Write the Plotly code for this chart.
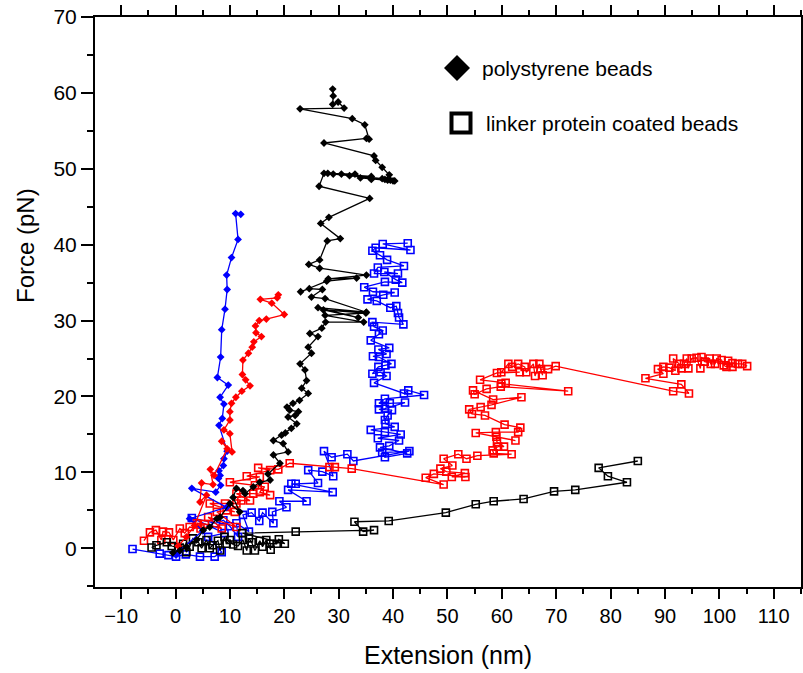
import plotly.graph_objects as go

# ---- data (Extension nm, Force pN) ----
# polystyrene beads (filled diamonds)
bd_x = [0.1, 0.8, 5.0, 2.6, 9.4, 3.0, 7.4, 8.3, 7.9, 8.2, 8.0, 8.8, 8.9, 9.5, 8.0, 8.6, 8.9, 8.2, 9.7, 7.7, 8.3, 8.5, 9.1, 9.5, 9.4, 10.3, 11.5, 11.05, 12.0]
bd_y = [-0.9, -0.3, 2.3, 3.9, 5.4, 7.9, 7.4, 8.3, 9.2, 9.6, 10.2, 10.9, 11.8, 12.8, 16.2, 17.1, 19.0, 19.9, 21.5, 22.5, 25.2, 28.8, 31.5, 34.1, 36.0, 38.3, 40.7, 44.1, 44.0]

rd_x = [0.5, 2.0, 3.5, 5.7, 4.5, 4.8, 6.9, 6.4, 7.1, 9.5, 8.5, 10.4, 10.0, 8.9, 10.0, 10.0, 10.3, 11.1, 12.2, 13.7, 12.9, 12.3, 12.4, 13.4, 14.1, 14.4, 15.8, 14.8, 14.7, 15.4, 16.7, 20.0, 17.7, 15.6, 18.7, 18.9]
rd_y = [0.3, 1.5, 3.0, 7.0, 6.1, 8.6, 8.4, 10.4, 9.6, 13.1, 14.1, 12.7, 15.1, 15.6, 16.9, 18.0, 19.1, 19.9, 20.7, 21.4, 22.2, 22.9, 24.8, 25.7, 26.5, 27.2, 27.9, 28.4, 29.3, 30.0, 30.2, 30.8, 32.3, 32.8, 33.0, 33.4]

kd_x = [-0.5, 0.8, 2.0, 3.9, 5.1, 6.3, 7.6, 8.2, 10.0, 11.8, 10.6, 11.2, 12.4, 12.8, 14.3, 15.5, 17.4, 17.0, 19.2, 18.0, 20.7, 19.8, 18.0, 19.5, 20.2, 21.3, 22.3, 20.7, 22.0, 22.6, 21.0, 20.5, 21.6, 22.8, 24.4, 23.2, 24.1, 23.8, 22.9, 25.0, 24.4, 26.2, 24.7, 26.9, 27.6, 34.6, 27.5, 35.0, 27.2, 33.6, 26.2, 35.1, 27.5, 25.0, 27.0, 24.6, 23.0, 27.8, 33.3, 28.1, 35.1, 26.5, 24.5, 26.5, 27.9, 30.3, 26.7, 28.2, 35.7, 26.4, 27.3, 33.0, 28.0, 36.0, 29.0, 38.0, 30.5, 39.5, 32.0, 40.3, 34.0, 39.0, 36.0, 40.0, 38.5, 39.3, 38.0, 36.8, 36.5, 27.3, 35.1, 35.6, 34.8, 32.5, 22.9, 31.0, 29.9, 28.9, 29.0, 28.9]
kd_y = [-0.6, -0.3, 0.2, 1.1, 2.4, 2.8, 3.9, 4.1, 5.9, 4.8, 6.7, 7.9, 7.6, 7.2, 8.1, 8.7, 9.0, 9.8, 11.2, 12.3, 12.7, 13.8, 14.2, 14.9, 15.2, 15.8, 16.4, 17.3, 17.5, 18.0, 18.2, 18.6, 19.1, 19.5, 20.4, 21.1, 22.1, 23.5, 24.3, 25.7, 26.5, 27.9, 28.3, 29.0, 29.8, 29.8, 30.7, 31.0, 31.4, 30.4, 31.7, 31.1, 32.9, 33.1, 34.1, 34.2, 33.8, 35.2, 35.6, 35.5, 36.0, 36.9, 37.4, 38.0, 40.5, 40.8, 42.8, 43.6, 46.1, 47.7, 49.4, 49.3, 49.4, 49.0, 49.3, 48.7, 49.3, 48.5, 49.1, 48.4, 48.8, 48.5, 48.6, 48.4, 48.6, 49.2, 50.2, 51.1, 51.7, 53.4, 54.0, 53.9, 55.8, 56.6, 57.9, 58.0, 58.8, 58.5, 59.6, 60.5]

# linker protein coated beads (open squares)
bs_x = [-7.9, -2.9, -1.3, 0.1, 1.9, 4.5, 7.2, 8.5, 6.0, 9.0, 3.0, 7.4, 8.8, 10.0, 11.5, 11.2, 13.5, 12.4, 14.0, 15.4, 16.0, 18.0, 17.8, 20.4, 19.1, 24.1, 20.7, 28.9, 21.3, 22.1, 26.2, 24.4, 27.0, 29.0, 27.3, 28.7, 31.6, 32.7, 43.0, 38.0, 38.5, 42.6, 37.6, 39.3, 41.1, 37.2, 41.4, 38.5, 35.9, 40.3, 38.6, 38.5, 39.0, 39.8, 37.4, 38.5, 42.2, 39.4, 37.4, 38.5, 45.7, 42.8, 42.0, 36.5, 38.8, 37.7, 36.2, 37.3, 38.6, 39.7, 37.4, 36.3, 38.8, 37.3, 39.3, 35.9, 37.4, 38.1, 36.5, 36.2, 41.9, 41.1, 40.9, 40.6, 39.5, 37.0, 35.3, 38.2, 40.3, 36.3, 34.7, 38.5, 41.7, 40.5, 38.4, 40.9, 36.5, 37.2, 42.0, 38.9, 37.6, 36.2, 36.8, 43.2, 38.1, 42.7]
bs_y = [-0.1, -0.7, -0.9, -1.1, -0.8, -1.1, -1.1, -0.5, 1.5, 2.0, 4.0, 3.3, 3.7, 2.9, 1.5, 3.3, 2.2, 4.4, 4.7, 3.6, 4.7, 3.3, 4.8, 5.4, 6.2, 6.2, 7.7, 7.4, 8.5, 8.5, 8.6, 10.3, 10.1, 9.5, 12.8, 12.0, 12.4, 11.5, 12.8, 12.6, 12.0, 12.5, 13.3, 13.5, 14.2, 14.5, 15.0, 15.3, 15.6, 16.0, 16.4, 16.9, 17.5, 18.2, 18.3, 18.4, 19.2, 19.1, 19.1, 19.7, 20.2, 20.8, 20.4, 21.8, 22.7, 23.2, 23.0, 23.9, 24.1, 24.3, 25.2, 25.3, 25.6, 26.2, 26.4, 27.4, 28.2, 28.7, 29.2, 29.8, 29.5, 30.4, 31.0, 31.9, 31.7, 32.6, 32.8, 33.4, 33.7, 33.8, 34.4, 35.1, 35.0, 35.4, 36.4, 36.2, 36.2, 37.0, 37.2, 38.0, 38.6, 39.2, 39.6, 39.3, 40.1, 40.2]

rs_x = [-5.8, -4.7, -3.6, -2.6, -2.3, -1.2, -0.4, 0.8, 1.7, 2.6, 4.6, 3.9, 5.4, 8.5, 6.0, 11.2, 7.6, 9.4, 10.9, 6.3, 9.1, 11.2, 12.1, 13.7, 11.2, 14.3, 17.4, 15.5, 16.4, 14.6, 10.0, 15.5, 13.1, 17.4, 15.2, 18.9, 21.0, 28.3, 29.3, 32.4, 49.3, 46.0, 47.5, 53.3, 50.8, 53.2, 49.8, 48.7, 50.9, 49.3, 52.0, 53.5, 55.5, 61.8, 58.5, 58.3, 59.3, 60.4, 59.1, 59.0, 62.5, 55.2, 58.9, 63.0, 63.4, 60.5, 56.9, 54.5, 54.0, 56.1, 58.1, 63.6, 58.4, 54.7, 55.0, 57.2, 59.8, 72.2, 59.9, 60.7, 56.0, 59.1, 63.3, 59.9, 61.2, 61.9, 63.0, 64.2, 64.5, 65.8, 66.1, 66.9, 67.5, 67.1, 68.5, 69.9, 91.5, 94.4, 93.0, 86.4, 89.7, 88.7, 89.7, 90.8, 91.9, 91.5, 92.6, 93.0, 93.5, 94.0, 94.3, 94.9, 95.8, 96.5, 96.7, 97.3, 98.2, 98.4, 99.2, 99.5, 100.4, 100.8, 101.3, 101.6, 102.4, 102.4, 103.4, 104.2, 105.1]
rs_y = [1.0, 2.1, 2.4, 1.1, 2.2, 2.1, 1.1, 2.6, 2.0, 2.8, 2.6, 3.3, 3.2, 2.6, 4.1, 2.8, 4.8, 5.0, 4.8, 5.9, 5.9, 5.9, 6.3, 6.3, 7.2, 7.2, 7.0, 7.4, 8.1, 8.3, 8.7, 9.4, 9.5, 10.3, 10.6, 10.4, 11.2, 10.7, 10.7, 10.5, 8.4, 9.3, 9.8, 9.4, 9.4, 9.9, 10.1, 10.5, 10.9, 11.8, 12.4, 11.8, 12.2, 12.4, 12.5, 12.9, 13.4, 13.4, 14.0, 14.7, 14.2, 15.2, 15.3, 15.3, 15.9, 16.3, 17.5, 17.7, 18.3, 18.6, 18.9, 19.9, 19.6, 20.8, 20.3, 21.0, 21.3, 20.7, 21.7, 21.8, 22.2, 23.1, 23.2, 23.2, 24.3, 23.9, 24.3, 23.9, 23.2, 24.3, 22.7, 24.3, 22.8, 23.6, 23.6, 24.0, 20.7, 20.4, 21.6, 22.4, 23.0, 23.6, 23.9, 23.8, 23.4, 25.0, 24.3, 23.7, 24.3, 25.0, 23.7, 25.0, 25.1, 23.7, 25.2, 24.6, 25.0, 24.3, 24.3, 25.0, 24.8, 24.1, 23.9, 24.7, 23.9, 24.4, 24.3, 24.3, 24.0]

ks_x = [-4.4, -3.5, -1.6, -0.7, 0.5, 1.4, 2.0, 2.6, 3.2, 4.2, 4.8, 5.7, 6.3, 6.8, 7.8, 8.2, 9.0, 9.4, 10.0, 10.6, 11.5, 12.4, 13.1, 13.5, 14.0, 14.6, 15.5, 16.0, 16.7, 17.5, 17.4, 18.6, 19.0, 20.1, 12.3, 22.1, 36.5, 34.5, 32.9, 39.2, 49.7, 55.2, 58.5, 64.0, 69.6, 73.5, 83.0, 79.5, 77.8, 85.0]
ks_y = [0.1, 0.4, 0.8, 0.3, 0.1, 0.6, -0.5, 0.2, 1.3, 0.8, 0.0, 1.1, 0.0, 0.4, 1.0, -0.3, 1.5, 0.6, 1.1, 0.5, 0.3, 1.1, -0.3, 1.3, 0.8, -0.3, 1.0, 0.2, 1.1, -0.2, 0.6, 0.6, 1.2, 0.6, 2.0, 2.2, 2.4, 2.2, 3.5, 3.6, 4.7, 5.8, 6.2, 6.5, 7.5, 7.7, 8.7, 9.5, 10.6, 11.5]

x_ticks = [-10, 0, 10, 20, 30, 40, 50, 60, 70, 80, 90, 100, 110]
y_ticks = [0, 10, 20, 30, 40, 50, 60, 70]

legend_labels = ["polystyrene beads", "linker protein coated beads"]

for a, b in [(bd_x, bd_y), (rd_x, rd_y), (kd_x, kd_y), (bs_x, bs_y), (rs_x, rs_y), (ks_x, ks_y)]:
    assert len(a) == len(b), (len(a), len(b))

BLUE, RED, BLACK = "#0000FF", "#FF0000", "#000000"
FONT = "Liberation Sans, Arial, sans-serif"

fig = go.Figure()

def squares(x, y, c):
    fig.add_trace(go.Scatter(
        x=x, y=y, mode="lines+markers", showlegend=False,
        line=dict(color=c, width=1.3),
        marker=dict(symbol="square-open", size=7, color=c, line=dict(width=1.6, color=c)),
    ))

def diamonds(x, y, c):
    fig.add_trace(go.Scatter(
        x=x, y=y, mode="lines+markers", showlegend=False,
        line=dict(color=c, width=1.3),
        marker=dict(symbol="diamond", size=6, color=c, line=dict(width=0)),
    ))

squares(bs_x, bs_y, BLUE)
squares(rs_x, rs_y, RED)
squares(ks_x, ks_y, BLACK)
diamonds(bd_x, bd_y, BLUE)
diamonds(rd_x, rd_y, RED)
diamonds(kd_x, kd_y, BLACK)

W, H = 803, 673
L, R, T, B = 95, 2, 17, 86
pw, ph = W - L - R, H - T - B

def px(xp):
    return (xp - L) / pw

def py(yp):
    return (H - B - yp) / ph

# legend symbols (decoration drawn in paper coordinates)
cx, cy, hw = px(457), py(68), 13
fig.add_shape(type="path", xref="paper", yref="paper",
              path=f"M {px(457 - hw)},{cy} L {cx},{py(68 - hw)} L {px(457 + hw)},{cy} L {cx},{py(68 + hw)} Z",
              fillcolor=BLACK, line=dict(color=BLACK, width=0))
fig.add_shape(type="rect", xref="paper", yref="paper",
              x0=px(451.5), x1=px(470.5), y0=py(113.5), y1=py(132.5),
              line=dict(color=BLACK, width=4), fillcolor="rgba(0,0,0,0)")
fig.add_annotation(x=px(480), y=py(69), xref="paper", yref="paper", text=legend_labels[0],
                   showarrow=False, xanchor="left", yanchor="middle",
                   font=dict(family=FONT, size=21, color=BLACK))
fig.add_annotation(x=px(484), y=py(123), xref="paper", yref="paper", text=legend_labels[1],
                   showarrow=False, xanchor="left", yanchor="middle",
                   font=dict(family=FONT, size=21, color=BLACK))

# axis titles
fig.add_annotation(x=0.5, y=py(671), xref="paper", yref="paper", text="Extension (nm)",
                   showarrow=False, xanchor="center", yanchor="bottom",
                   font=dict(family=FONT, size=25, color=BLACK))
fig.add_annotation(x=px(25), y=py(246), xref="paper", yref="paper", text="Force (pN)",
                   showarrow=False, textangle=-90, xanchor="center", yanchor="middle",
                   font=dict(family=FONT, size=24, color=BLACK))

axis_common = dict(
    showgrid=False, zeroline=False, showline=True, linecolor=BLACK, linewidth=2,
    mirror="ticks", ticks="outside", tickcolor=BLACK, tickwidth=1.5,
    automargin=False,
)

fig.update_layout(
    template="none",
    width=W, height=H,
    margin=dict(l=L, r=R, t=T, b=B, autoexpand=False),
    paper_bgcolor="white", plot_bgcolor="white",
    showlegend=False,
    xaxis=dict(range=[-14.8, 115.0], tickvals=x_ticks, ticklen=10,
               tickfont=dict(family=FONT, size=20, color=BLACK),
               minor=dict(dtick=5, tick0=0, ticks="outside", ticklen=5, tickcolor=BLACK, tickwidth=1.5),
               **axis_common),
    yaxis=dict(range=[-5.1, 70.0], tickvals=y_ticks, ticklen=12,
               tickfont=dict(family=FONT, size=21, color=BLACK),
               minor=dict(dtick=5, tick0=0, ticks="outside", ticklen=6, tickcolor=BLACK, tickwidth=1.5),
               **axis_common),
)

fig.write_html("out.html", config={"displayModeBar": False},
               post_script="document.body.style.margin='0';document.body.style.overflow='hidden';")
